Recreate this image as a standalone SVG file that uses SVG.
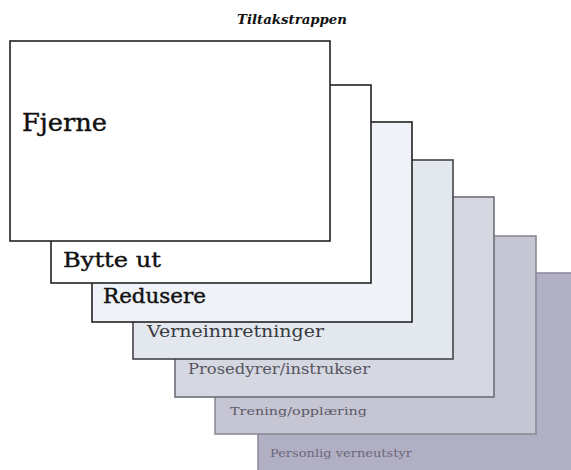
<svg xmlns="http://www.w3.org/2000/svg" width="571" height="470" viewBox="0 0 571 470">
<style>
.card{stroke-width:1.6}
.lbl{font-family:"DejaVu Serif","Liberation Serif",serif}
.heavy{stroke:#111;stroke-width:0.4}
</style>
<rect width="571" height="470" fill="#ffffff"/>
<text x="292" y="24" text-anchor="middle" font-family="DejaVu Serif, serif" font-weight="bold" font-style="italic" font-size="12" textLength="110" lengthAdjust="spacingAndGlyphs" fill="#111">Tiltakstrappen</text>
<g id="n7"><rect class="card" x="258" y="273" width="320" height="200" fill="#b1afc4" stroke="#8e8ca0"/>
<text class="lbl" x="270" y="457" font-size="10.5" fill="#6a6878" textLength="142" lengthAdjust="spacingAndGlyphs">Personlig verneutstyr</text></g>
<g id="n6"><rect class="card" x="215" y="236" width="321" height="198" fill="#c6c5d3" stroke="#8a8a98"/>
<text class="lbl" x="230" y="415" font-size="11.5" fill="#5a5a66" textLength="137" lengthAdjust="spacingAndGlyphs">Trening/opplæring</text></g>
<g id="n5"><rect class="card" x="175" y="197" width="319" height="200" fill="#d5d7e1" stroke="#6e6e78"/>
<text class="lbl" x="188" y="374" font-size="14" fill="#55555e" textLength="182" lengthAdjust="spacingAndGlyphs">Prosedyrer/instrukser</text></g>
<g id="n4"><rect class="card" x="133" y="160" width="320" height="199" fill="#e3e7ee" stroke="#444448"/>
<text class="lbl" x="147" y="337" font-size="17" fill="#3a3a40" textLength="177" lengthAdjust="spacingAndGlyphs">Verneinnretninger</text></g>
<g id="n3"><rect class="card" x="92" y="122" width="320" height="200" fill="#eff3f7" stroke="#222"/>
<text class="lbl heavy" x="103" y="303" font-size="19.5" fill="#111" textLength="103" lengthAdjust="spacingAndGlyphs">Redusere</text></g>
<g id="n2"><rect class="card" x="51" y="85" width="320" height="198" fill="#ffffff" stroke="#222"/>
<text class="lbl heavy" x="63" y="267" font-size="21" fill="#111" textLength="98" lengthAdjust="spacingAndGlyphs">Bytte ut</text></g>
<g id="n1"><rect class="card" x="10" y="41" width="320" height="200" fill="#ffffff" stroke="#222"/>
<text class="lbl heavy" x="22" y="131" font-size="24" fill="#111" textLength="85" lengthAdjust="spacingAndGlyphs">Fjerne</text></g>
<g id="connectors"></g>
</svg>
